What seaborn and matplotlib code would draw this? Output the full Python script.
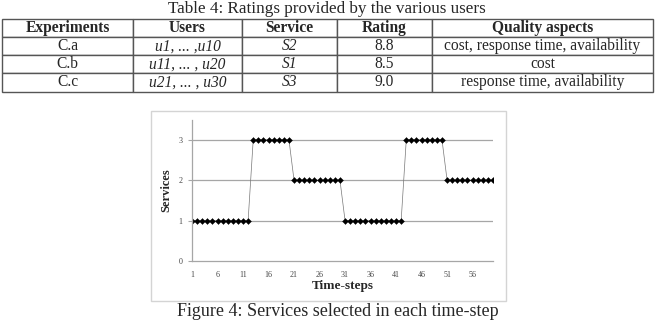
import matplotlib
matplotlib.use('Agg')
import matplotlib.pyplot as plt
import matplotlib.patches as patches
import seaborn as sns
import pandas as pd

# Table 4 data
col_labels = ['Experiments', 'Users', 'Service', 'Rating', 'Quality aspects']
experiments = ['C.a', 'C.b', 'C.c']
users = ['u1, ... ,u10', 'u11, ... , u20', 'u21, ... , u30']
services_tbl = ['S2', 'S1', 'S3']
ratings = ['8.8', '8.5', '9.0']
aspects = ['cost, response time, availability', 'cost', 'response time, availability']

# Figure 4 data: service chosen at each time-step
time_steps = list(range(1, 61))
services = ([1] * 12 + [3] * 8 + [2] * 10 +
            [1] * 12 + [3] * 8 + [2] * 10)
xtick_vals = list(range(1, 60, 5))

df = pd.DataFrame({'t': time_steps, 'service': services})

sns.set_style('white')
plt.rcParams['font.family'] = ['Liberation Serif', 'DejaVu Serif']

W, H = 662, 324
fig = plt.figure(figsize=(W / 100, H / 100), dpi=100)

# ---- table ----
fig.text(327 / W, 1 - 9 / H, 'Table 4: Ratings provided by the various users',
         ha='center', va='center', fontsize=12.3)

tax = fig.add_axes([2 / W, 1 - 91.5 / H, (653 - 2) / W, (91.5 - 19) / H])
tax.axis('off')
rows = [list(r) for r in zip(experiments, users, services_tbl, ratings, aspects)]
edges = [2, 133, 242, 337, 432, 653]
widths = [(edges[i + 1] - edges[i]) / (653 - 2) for i in range(5)]
tbl = tax.table(cellText=rows, colLabels=col_labels, colWidths=widths,
                cellLoc='center', bbox=[0, 0, 1, 1])
tbl.auto_set_font_size(False)
for (r, c), cell in tbl.get_celld().items():
    cell.set_edgecolor('#555555')
    cell.set_linewidth(1.0)
    cell.set_text_props(fontsize=11.2)
    if r == 0:
        cell.set_text_props(fontweight='bold')
    elif c in (1, 2):
        cell.set_text_props(fontstyle='italic')

# ---- chart frame ----
fig.patches.append(patches.Rectangle((151 / W, 1 - 301 / H), (506 - 151) / W, (301 - 111) / H,
                                     transform=fig.transFigure, fill=False,
                                     edgecolor='#d4d4d4', linewidth=1.0))

ax = fig.add_axes([192 / W, 1 - 261 / H, (493 - 192) / W, (261 - 119.5) / H])
sns.lineplot(data=df, x='t', y='service', ax=ax, color='#777777', linewidth=0.5,
             marker='D', markersize=3.0, markerfacecolor='black',
             markeredgecolor='black', markeredgewidth=0.3)
ax.set_xlim(1, 60)
ax.set_ylim(0, 3.5)
ax.set_xticks(xtick_vals)
ax.set_xticklabels([str(v) for v in xtick_vals])
ax.set_yticks([0, 1, 2, 3])
for y in [1, 2, 3]:
    ax.axhline(y, color='#a6a6a6', linewidth=0.9, zorder=0)
for s in ['top', 'right']:
    ax.spines[s].set_visible(False)
for s in ['left', 'bottom']:
    ax.spines[s].set_color('#a6a6a6')
    ax.spines[s].set_linewidth(0.9)
ax.tick_params(axis='y', length=3, width=0.8, color='#a6a6a6', labelsize=5.8,
               labelcolor='#444444', left=True, pad=4)
ax.tick_params(axis='x', length=0, labelsize=5.8, labelcolor='#444444', pad=7)
ax.set_xlabel('Time-steps', fontsize=9.5, fontweight='bold', labelpad=1)
ax.set_ylabel('Services', fontsize=9, fontweight='bold', labelpad=4)

fig.text(338 / W, 12 / H, 'Figure 4: Services selected in each time-step',
         ha='center', va='center', fontsize=13)

fig.savefig('out.png', dpi=100)
